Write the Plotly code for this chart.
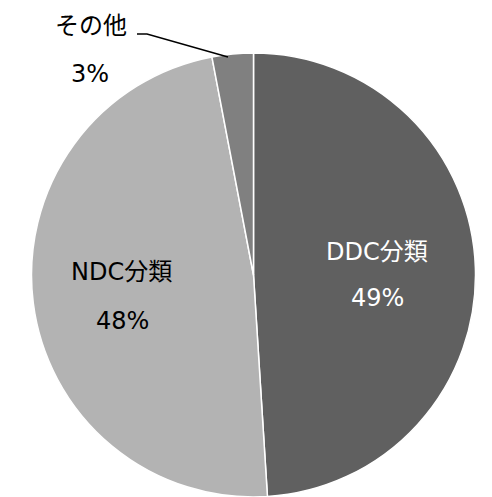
import plotly.graph_objects as go

labels = ["DDC分類", "NDC分類", "その他"]
values = [49, 48, 3]
colors = ["#606060", "#b3b3b3", "#808080"]
text_colors = ["#ffffff", "#000000", "#000000"]

W, H = 492, 497
FONT = "DejaVu Sans, Noto Sans CJK JP, sans-serif"
FS = 24

def px(x):
    return x / W

def py(y):
    return 1 - y / H

cx, cy, r = 253.5, 275.0, 222.0

fig = go.Figure(
    go.Pie(
        labels=labels,
        values=values,
        sort=False,
        direction="clockwise",
        rotation=0,
        marker=dict(colors=colors, line=dict(color="#ffffff", width=1.5)),
        textinfo="none",
        hoverinfo="label+percent",
        showlegend=False,
        domain=dict(x=[px(cx - r), px(cx + r)], y=[py(cy + r), py(cy - r)]),
    )
)

# label / percentage positions (pixel centres)
label_pos = [(377, 252), (121, 272), (91, 26)]
pct_pos = [(377, 298), (122, 321), (90, 74)]

annotations = []
for lab, val, tc, (lx, ly), (vx, vy) in zip(labels, values, text_colors, label_pos, pct_pos):
    annotations.append(dict(x=px(lx), y=py(ly), xref="paper", yref="paper",
                            text=lab, showarrow=False,
                            font=dict(family=FONT, size=FS, color=tc),
                            xanchor="center", yanchor="middle"))
    annotations.append(dict(x=px(vx), y=py(vy), xref="paper", yref="paper",
                            text=f"{val}%", showarrow=False,
                            font=dict(family=FONT, size=FS, color=tc),
                            xanchor="center", yanchor="middle"))

# leader line for その他
leader = dict(type="path", xref="paper", yref="paper",
              path=f"M {px(137)},{py(34)} L {px(147)},{py(34)} L {px(228)},{py(57)}",
              line=dict(color="#000000", width=1.5))

fig.update_layout(
    width=W, height=H,
    margin=dict(l=0, r=0, t=0, b=0),
    paper_bgcolor="#ffffff",
    plot_bgcolor="#ffffff",
    annotations=annotations,
    shapes=[leader],
)

fig.write_html("out.html", config={"displayModeBar": False},
               post_script="document.body.style.margin='0';document.body.style.overflow='hidden';")
